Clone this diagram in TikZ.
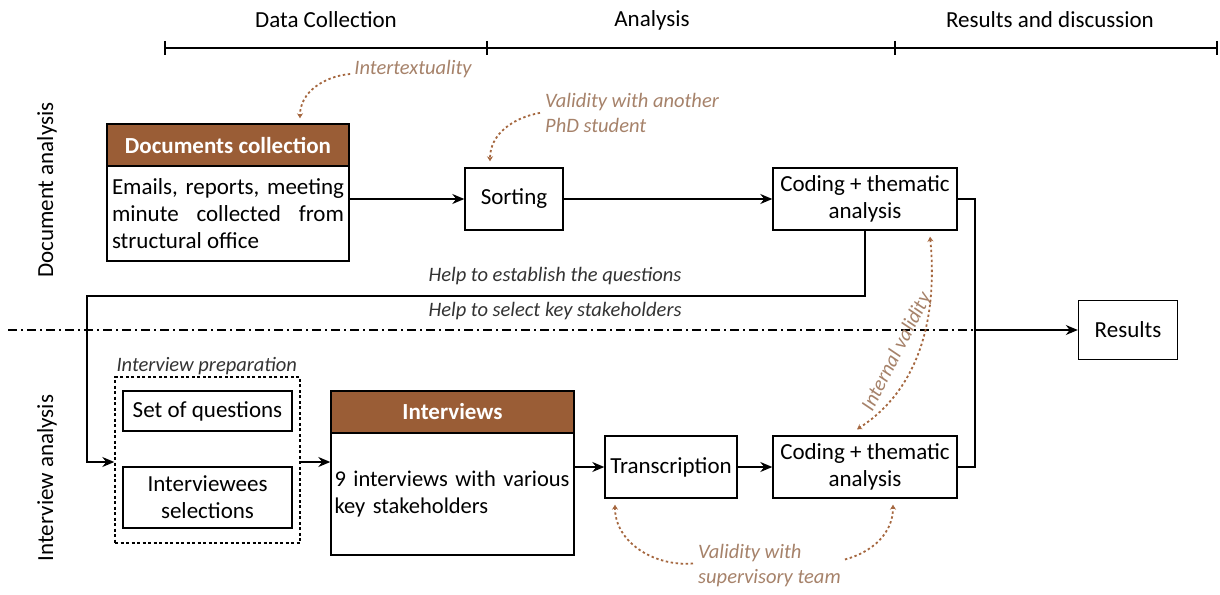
\documentclass[tikz,border=0pt]{standalone}
\usepackage{fontspec}
\setmainfont{Carlito}
\usetikzlibrary{arrows.meta,positioning}
\definecolor{clay}{HTML}{9A5D36}
\definecolor{claytext}{HTML}{A6826A}
\definecolor{claydot}{HTML}{A5673F}

\begin{document}
\begin{tikzpicture}[x=1pt, y=-1pt, >={Stealth[length=12pt,width=10pt]},
    txt/.style={font=\fontsize{23}{27}\selectfont},
    box/.style={txt, draw, line width=1.4pt, align=center, inner sep=0pt},
    head/.style={box, fill=clay, text=white, font=\fontsize{23}{27}\selectfont\bfseries},
    aside/.style={font=\fontsize{20.5}{25}\selectfont\itshape, text=black!80, inner sep=1pt},
    note/.style={aside, text=claytext, align=left},
    link/.style={line width=1.4pt},
    loop/.style={claydot, line width=1.8pt, dash pattern=on 2.4pt off 2.6pt, -{Stealth[length=5pt,width=6pt]}}]

    \useasboundingbox (0,0) rectangle (1220,594);

    % time line
    \draw[link] (165,48) -- (1217,48);
    \foreach \tx in {165,487,895,1217}
        \draw[link] (\tx,41) -- (\tx,55);
    \node[txt] (phaseA) at (326,20) {Data Collection};
    \node[txt] (phaseB) at (652,20) {Analysis};
    \node[txt] (phaseC) at (1050,20) {Results and discussion};

    \node[txt, rotate=90] (rowA) at (47,190) {Document analysis};
    \node[txt, rotate=90] (rowB) at (47,478) {Interview analysis};

    % document analysis
    \node[head, minimum width=242pt, minimum height=42pt] (docHead) at (228,145) {Documents collection};
    \node[box, minimum width=242pt, minimum height=95pt, text width=232pt, align=justify] (docBody) at (228,213.5)
        {Emails, reports, meeting\linebreak minute collected from\linebreak structural office};
    \node[box, minimum width=98pt, minimum height=62pt] (sort) at (514,199) {Sorting};
    \node[box, minimum width=184pt, minimum height=62pt] (codeA) at (865,199) {Coding + thematic\\analysis};

    % interview analysis
    \node[draw, line width=1.4pt, dash pattern=on 3pt off 2.5pt, minimum width=185pt, minimum height=166pt] (prep) at (207.5,460) {};
    \node[aside, anchor=south west] (prepTitle) at ([xshift=1pt]prep.north west) {Interview preparation};
    \node[box, minimum width=169pt, minimum height=40pt] (quest) at (207.5,411) {Set of questions};
    \node[box, minimum width=169pt, minimum height=61pt] (select) at (207.5,497.5) {Interviewees\\selections};
    \node[head, minimum width=243pt, minimum height=42pt] (intHead) at (452.5,412) {Interviews};
    \node[box, minimum width=243pt, minimum height=122pt, text width=236pt, align=left,
        font=\fontsize{22.5}{27}\selectfont] (intBody) at (452.5,494)
        {\mbox{9 interviews with various}\\key stakeholders};
    \node[box, minimum width=132pt, minimum height=62pt] (trans) at (671,467) {Transcription};
    \node[box, minimum width=184pt, minimum height=62pt] (codeB) at (865,467) {Coding + thematic\\analysis};
    \node[box, minimum width=99pt, minimum height=59pt] (results) at (1128,330) {Results};

    % flow
    \draw[link, ->] (docBody.east |- sort) -- (sort.west);
    \draw[link, ->] (sort.east) -- (codeA.west);
    \coordinate (join) at (975,330);
    \coordinate (turn) at (87,296);
    \draw[link] (codeA.east) -| (join);
    \draw[link] (codeB.east) -| (join);
    \draw[link, ->] (join) -- (results.west);
    \draw[link, ->] (codeA.south) |- (turn) |- ([yshift=-2pt]prep.west);
    \draw[link, ->] ([yshift=-2pt]prep.east) -- ([yshift=-2pt]prep.east -| intBody.west);
    \draw[link, ->] (intBody.east |- trans) -- (trans.west);
    \draw[link, ->] (trans.east) -- (codeB.west);

    \draw[line width=1.4pt, dash pattern=on 9pt off 4pt on 2pt off 4pt] (8,330) -- (join);
    \node[aside] (helpQ) at (555,276) {Help to establish the questions};
    \node[aside] (helpS) at (555,311) {Help to select key stakeholders};

    % validity loops
    \node[note] (intertext) at (413,69) {Intertextuality};
    \draw[loop] ([xshift=-3pt,yshift=-5pt]intertext.west) to[out=185,in=90] ([xshift=72pt,yshift=5pt]docHead.north);

    \node[note, anchor=north west] (phd) at (544,92) {Validity with another\\PhD student};
    \draw[loop] ([xshift=-4pt]phd.west) to[out=190,in=90] ([xshift=-24pt,yshift=6pt]sort.north);

    \node[note, rotate=63] (intval) at (897,352) {Internal validity};
    \draw[loop, {Stealth[length=5pt,width=6pt]}-{Stealth[length=5pt,width=6pt]}] ([xshift=65pt,yshift=-6pt]codeA.south)
        .. controls (938,320) and (918,390) .. ([xshift=-8pt,yshift=6pt]codeB.north);

    \node[note, anchor=north west] (superv) at (697,543) {Validity with\\supervisory team};
    \draw[loop] ([xshift=-4pt,yshift=2pt]superv.west) to[out=185,in=-90] ([xshift=-56pt,yshift=-6pt]trans.south);
    \draw[loop] ([xshift=3pt,yshift=6pt]superv.east) to[out=15,in=-90] ([xshift=28pt,yshift=-6pt]codeB.south);
\end{tikzpicture}
\end{document}
